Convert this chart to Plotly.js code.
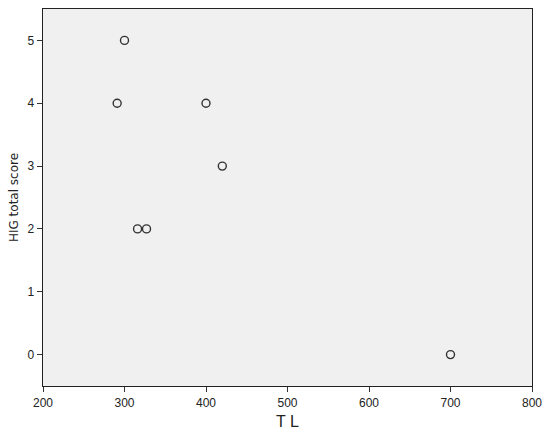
<!DOCTYPE html>
<html>
<head>
<meta charset="utf-8">
<script src="https://cdn.plot.ly/plotly-3.0.1.min.js"></script>
<style>html,body{margin:0;padding:0;background:#fff;}#chart{width:550px;height:438px;}</style>
</head>
<body>
<div id="chart"></div>
<script>
const tlValues = [300, 291, 400, 420, 316, 327, 700];
const higScores = [5, 4, 4, 3, 2, 2, 0];
const xTicks = [200, 300, 400, 500, 600, 700, 800];
const yTicks = [0, 1, 2, 3, 4, 5];

const trace = {
  x: tlValues,
  y: higScores,
  type: 'scatter',
  mode: 'markers',
  marker: {symbol: 'circle-open', size: 8, color: '#333333', line: {width: 1.4, color: '#333333'}},
  hoverinfo: 'skip'
};

const axisCommon = {
  showgrid: false,
  zeroline: false,
  showline: true,
  linecolor: '#222',
  linewidth: 1.3,
  mirror: true,
  ticks: 'outside',
  ticklen: 5,
  tickwidth: 1,
  tickcolor: '#333',
  tickfont: {family: 'Liberation Sans, Arial, sans-serif', size: 12, color: '#222'}
};

const layout = {
  width: 550,
  height: 438,
  margin: {l: 43, r: 18, t: 9, b: 52},
  paper_bgcolor: '#ffffff',
  plot_bgcolor: '#f0f0f0',
  showlegend: false,
  xaxis: Object.assign({}, axisCommon, {
    range: [200, 800],
    tickvals: xTicks,
    ticktext: xTicks.map(String),
    title: {text: 'T L', font: {family: 'Liberation Sans, Arial, sans-serif', size: 16, color: '#222'}, standoff: 7}
  }),
  yaxis: Object.assign({}, axisCommon, {
    range: [-0.5, 5.5],
    tickvals: yTicks,
    ticktext: yTicks.map(String),
    title: {text: 'HIG total score', font: {family: 'DejaVu Sans, sans-serif', size: 12, color: '#222'}, standoff: 6}
  })
};

Plotly.newPlot('chart', [trace], layout, {staticPlot: true, displayModeBar: false});
</script>
</body>
</html>
